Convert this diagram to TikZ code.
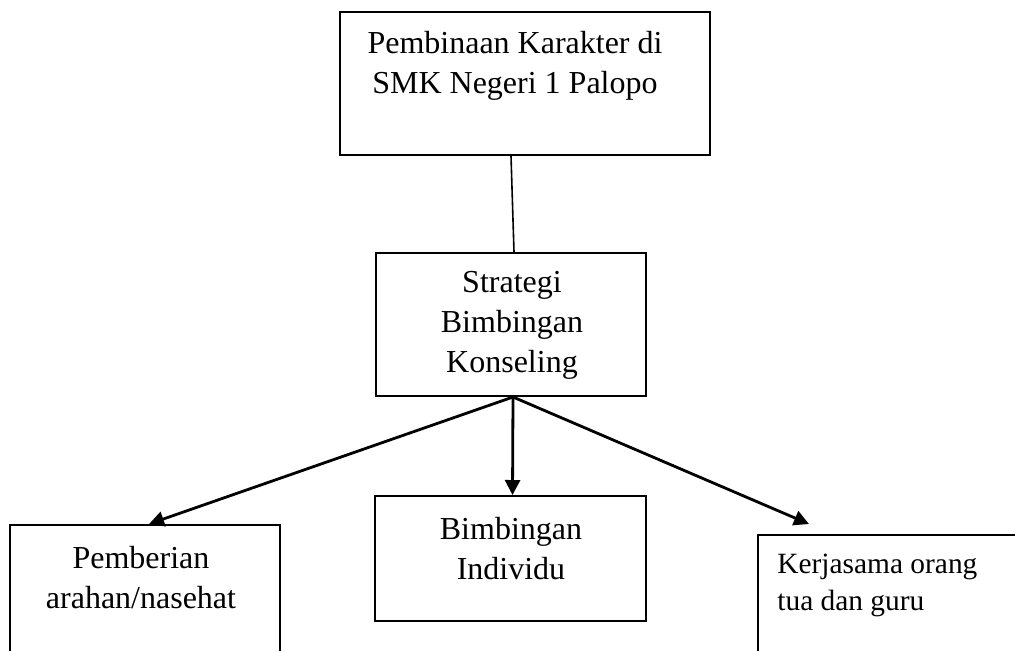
\documentclass[tikz,border=0pt]{standalone}
\usepackage{fontspec}
\setmainfont{Liberation Serif}
\usepackage{tikz}
\usetikzlibrary{arrows.meta}

\begin{document}
\begin{tikzpicture}[x=0.5pt, y=-0.5pt,
	kotak/.style={draw=black, line width=1pt, inner sep=0pt},
	teks/.style={align=center, inner sep=0pt, font=\fontsize{16}{20}\selectfont},
	panah/.style={-{Triangle[length=7.5pt,width=7.5pt]}, line width=1.4pt}]
	
	\useasboundingbox (0, 0) rectangle (1015, 650);
	\clip (0, 0) rectangle (1015, 650);
	
	\node[kotak, minimum width=185pt, minimum height=71.5pt] (pembinaan) at (525, 83.5)   {};
	\node[kotak, minimum width=135pt, minimum height=71.5pt] (strategi)  at (511, 324.5)  {};
	\node[kotak, minimum width=135pt, minimum height=87.5pt] (pemberian) at (145, 612.5)  {};
	\node[kotak, minimum width=135.5pt, minimum height=62.5pt] (individu) at (510.5, 558.5) {};
	\node[kotak, minimum width=171pt, minimum height=82.5pt] (kerjasama) at (929, 617.5)  {};
	
	\node[teks] (tPembinaan) at (515, 66)    {Pembinaan Karakter di\\SMK Negeri 1 Palopo};
	\node[teks] (tStrategi)  at (512, 325)   {Strategi\\Bimbingan\\Konseling};
	\node[teks] (tPemberian) at (141, 578)   {Pemberian\\arahan/nasehat};
	\node[teks] (tIndividu)  at (511, 548.5) {Bimbingan\\Individu};
	\node[teks, align=left, anchor=west, font=\fontsize{14.7}{18.5}\selectfont] (tKerjasama) at (777, 585.5) {Kerjasama orang\\tua dan guru};
	
	\coordinate (ujung) at (809, 524);
	
	\path[-, line width=0.8pt] ([xshift=-7pt]pembinaan.south) edge ([xshift=1.5pt]strategi.north);
	\path[panah] ([xshift=1pt]strategi.south) edge ([xshift=2pt]pemberian.north);
	\path[panah] ([xshift=1pt]strategi.south) edge ([xshift=1pt]individu.north);
	\path[panah] ([xshift=1pt]strategi.south) edge (ujung);
	
\end{tikzpicture}
\end{document}
